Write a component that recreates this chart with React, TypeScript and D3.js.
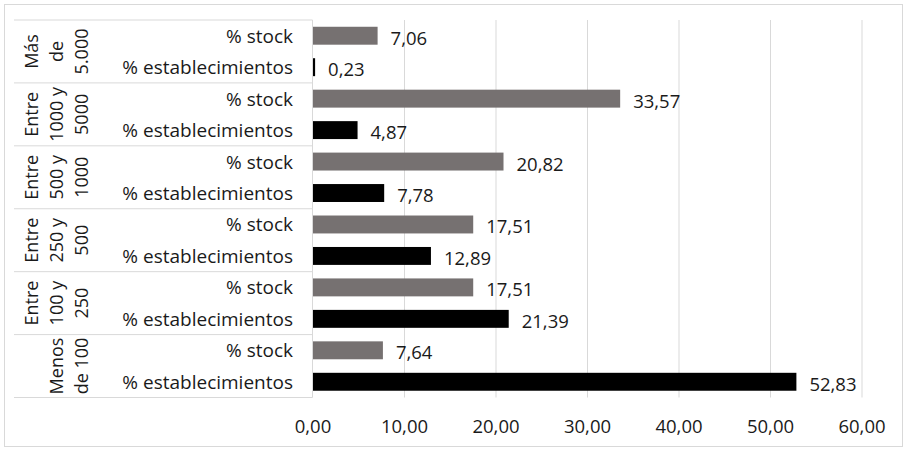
import React from "react";
import * as d3 from "d3";

const categories = [
  "Más de 5.000",
  "Entre 1000 y 5000",
  "Entre 500 y 1000",
  "Entre 250 y 500",
  "Entre 100 y 250",
  "Menos de 100",
];
const categoryLines = [
  ["Más", "de", "5.000"],
  ["Entre", "1000 y", "5000"],
  ["Entre", "500 y", "1000"],
  ["Entre", "250 y", "500"],
  ["Entre", "100 y", "250"],
  ["Menos", "de 100"],
];
const seriesKeys = ["stock", "estab"];
const seriesLabels = ["% stock", "% establecimientos"];
const stockValues = [7.06, 33.57, 20.82, 17.51, 17.51, 7.64];
const estabValues = [0.23, 4.87, 7.78, 12.89, 21.39, 52.83];
const xTicks = [0, 10, 20, 30, 40, 50, 60];

const W = 908;
const H = 451;
const FONT = "'Open Sans', 'Noto Sans', sans-serif";
const TEXT = "#1a1a1a";
const GRID = "#d9d9d9";
const colors: Record<string, string> = { stock: "#767171", estab: "#000000" };

const fmt = (v: number) => v.toFixed(2).replace(".", ",");

export default function App() {
  const x = d3.scaleLinear().domain([0, 60]).range([313, 862]);
  const y0 = d3.scaleBand<string>().domain(categories).range([20, 397.5]).padding(0);
  const y1 = d3
    .scaleBand<string>()
    .domain(seriesKeys)
    .range([0, y0.bandwidth()])
    .paddingInner(0.43)
    .paddingOuter(0.215);

  const values: Record<string, number[]> = { stock: stockValues, estab: estabValues };
  const top = y0.range()[0];
  const bottom = y0.range()[1];
  const boundaries = categories.map((c) => y0(c) as number).concat([bottom]);

  return (
    <div style={{ position: "absolute", left: 0, top: 0 }}>
      <svg width={W} height={H} style={{ display: "block", background: "#fff" }}>
        <rect x={4.5} y={4.5} width={898} height={442} fill="#fff" stroke={GRID} strokeWidth={1} />
        {xTicks.slice(1).map((t) => (
          <line key={"g" + t} x1={x(t)} x2={x(t)} y1={top} y2={bottom} stroke={GRID} strokeWidth={1} />
        ))}
        {boundaries.map((b, i) => (
          <line key={"b" + i} x1={14} x2={312.5} y1={b} y2={b} stroke={GRID} strokeWidth={1} />
        ))}
        <line x1={312.5} x2={312.5} y1={top} y2={bottom} stroke={GRID} strokeWidth={1} />
        {categories.map((c, ci) =>
          seriesKeys.map((k) => {
            const v = values[k][ci];
            const by = (y0(c) as number) + (y1(k) as number);
            const bh = y1.bandwidth();
            return (
              <g key={c + k}>
                <rect x={x(0)} y={by} width={x(v) - x(0)} height={bh} fill={colors[k]} />
                <text
                  x={x(v) + 13}
                  y={by + bh / 2 + 9}
                  fontFamily={FONT}
                  fontSize={18.5}
                  fill={TEXT}
                >
                  {fmt(v)}
                </text>
              </g>
            );
          })
        )}
        {categories.map((c, ci) =>
          seriesKeys.map((k, si) => {
            const by = (y0(c) as number) + (y1(k) as number) + y1.bandwidth() / 2;
            return (
              <text
                key={"l" + c + k}
                x={293}
                y={by + 7}
                textAnchor="end"
                fontFamily={FONT}
                fontSize={19}
                fill={TEXT}
              >
                {seriesLabels[si]}
              </text>
            );
          })
        )}
        {categories.map((c, ci) => {
          const lines = categoryLines[ci];
          const cy = (y0(c) as number) + y0.bandwidth() / 2;
          const n = lines.length;
          return lines.map((ln, li) => {
            const bx = 88 - (n - 1 - li) * 25;
            return (
              <text
                key={"c" + ci + li}
                transform={`translate(${bx},${cy}) rotate(-90)`}
                textAnchor="middle"
                fontFamily={FONT}
                fontSize={18}
                fill={TEXT}
              >
                {ln}
              </text>
            );
          });
        })}
        {xTicks.map((t) => (
          <text
            key={"t" + t}
            x={x(t)}
            y={433}
            textAnchor="middle"
            fontFamily={FONT}
            fontSize={18.5}
            fill={TEXT}
          >
            {fmt(t)}
          </text>
        ))}
      </svg>
    </div>
  );
}
